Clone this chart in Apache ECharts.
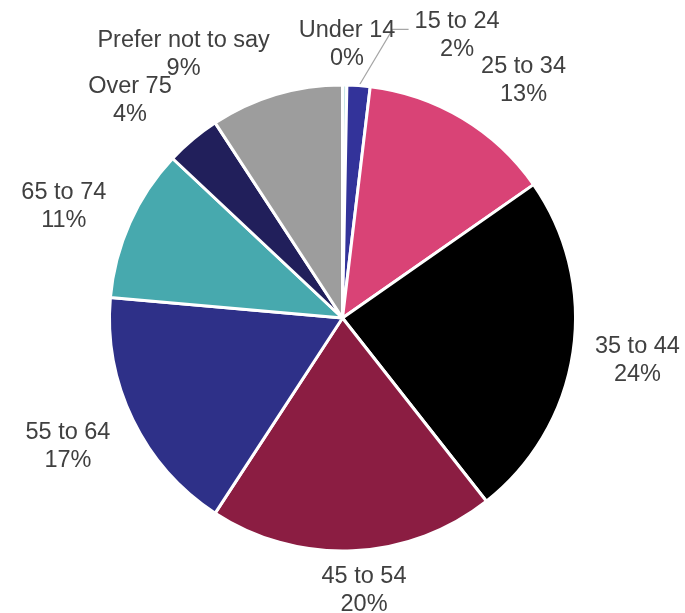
<!DOCTYPE html>
<html><head><meta charset="utf-8">
<script src="https://cdn.jsdelivr.net/npm/echarts@6/dist/echarts.min.js"></script>
<style>html,body{margin:0;padding:0;background:#fff}#c{width:685px;height:613px}</style>
</head><body><div id="c"></div>
<script>
// Data
const categories = ['Under 14', '15 to 24', '25 to 34', '35 to 44', '45 to 54', '55 to 64', '65 to 74', 'Over 75', 'Prefer not to say'];
const values = [0.3, 1.6, 13.4, 24.1, 19.8, 17.2, 10.6, 3.8, 9.2];

// Styles
const colors = ['#c8e6e6', '#33339a', '#d94376', '#000000', '#8b1d42', '#2e3088', '#47a9ae', '#211f5b', '#9d9d9d'];
const labelAngleShift = [0.4, 18.1, 6.3, -0.2, -2.0, 0.9, -2.4, -4.4, -14.5];
const labelRadialOffset = [41, 72, 66, 65, 40, 70, 67, 71, 75];
const CX = 342.5, CY = 318, R = 233;

const total = values.reduce((a, b) => a + b, 0);
const midAngles = [];
let acc = 0;
values.forEach(v => { midAngles.push((acc + v / 2) / total * 360); acc += v; });

const chart = echarts.init(document.getElementById('c'), null, {renderer: 'canvas'});
chart.setOption({
  animation: false,
  backgroundColor: '#ffffff',
  series: [{
    type: 'pie',
    center: [CX, CY],
    radius: R,
    startAngle: 90,
    clockwise: true,
    avoidLabelOverlap: false,
    itemStyle: {borderColor: '#ffffff', borderWidth: 3},
    label: {
      show: true,
      position: 'outside',
      color: '#404040',
      fontFamily: 'Liberation Sans, Arial, sans-serif',
      fontSize: 23.5,
      lineHeight: 28,
      formatter: p => p.name + '\n' + Math.round(p.percent) + '%'
    },
    labelLine: {show: false, lineStyle: {color: '#a6a6a6', width: 1.2}},
    labelLayout: function (params) {
      const i = params.dataIndex;
      const a = (midAngles[i] + labelAngleShift[i]) * Math.PI / 180;
      const d = R + labelRadialOffset[i];
      const x = CX + d * Math.sin(a), y = CY - d * Math.cos(a);
      const res = {x: x, y: y, align: 'center', verticalAlign: 'middle'};
      if (i === 1) {
        const w = params.labelRect.width;
        const lx = x - w / 2 - 6, ly = y - 6;
        const ma = midAngles[i] * Math.PI / 180;
        res.labelLinePoints = [[CX + (R - 1) * Math.sin(ma), CY - (R - 1) * Math.cos(ma)], [lx - 16, ly], [lx, ly]];
      }
      return res;
    },
    data: categories.map((c, i) => ({
      name: c,
      value: values[i],
      itemStyle: {color: colors[i]},
      labelLine: {show: i === 1}
    }))
  }]
});
</script>
</body></html>
